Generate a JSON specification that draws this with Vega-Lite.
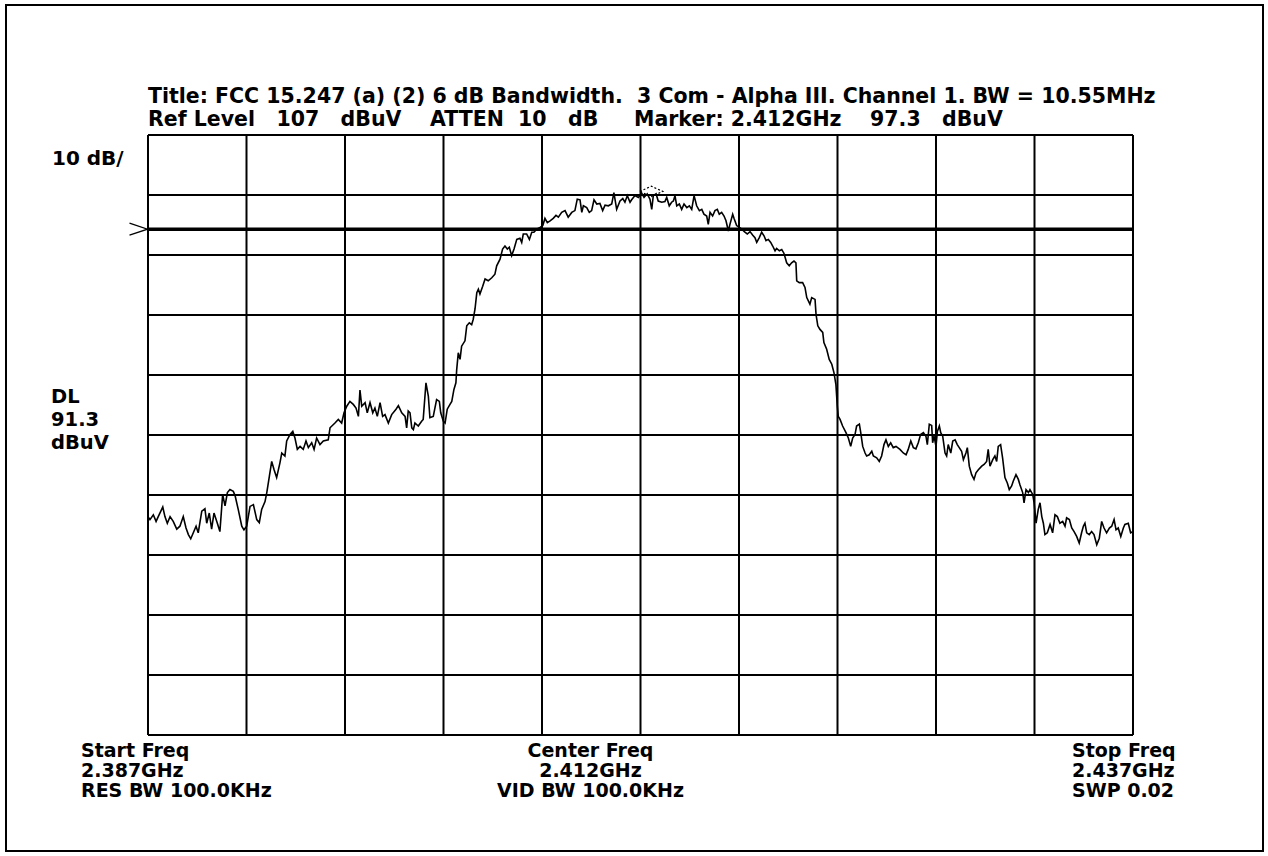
{
"$schema": "https://vega.github.io/schema/vega-lite/v6.json",
"width": 1257, "height": 846,
"autosize": {"type": "none"},
"padding": {"left": 6, "top": 5, "right": 5, "bottom": 5},
"background": "#ffffff",
"config": {"view": {"stroke": "#000000", "strokeWidth": 2}, "axis": {"disable": true}},
"datasets": {
"vgrid": [{"MHz":2387},{"MHz":2392},{"MHz":2397},{"MHz":2402},{"MHz":2407},{"MHz":2412},{"MHz":2417},{"MHz":2422},{"MHz":2427},{"MHz":2432},{"MHz":2437}],
"hgrid": [{"dBuV":7},{"dBuV":17},{"dBuV":27},{"dBuV":37},{"dBuV":47},{"dBuV":57},{"dBuV":67},{"dBuV":77},{"dBuV":87},{"dBuV":97},{"dBuV":107}],
"trace": [
{"MHz":2387.00,"dBuV":43.4},{"MHz":2387.10,"dBuV":42.9},{"MHz":2387.27,"dBuV":43.7},{"MHz":2387.41,"dBuV":42.6},{"MHz":2387.52,"dBuV":43.4},{"MHz":2387.75,"dBuV":45.0},{"MHz":2387.86,"dBuV":43.4},{"MHz":2387.98,"dBuV":42.3},{"MHz":2388.12,"dBuV":43.4},{"MHz":2388.28,"dBuV":42.6},
{"MHz":2388.46,"dBuV":41.3},{"MHz":2388.62,"dBuV":41.8},{"MHz":2388.79,"dBuV":43.4},{"MHz":2388.93,"dBuV":41.5},{"MHz":2389.05,"dBuV":40.4},{"MHz":2389.17,"dBuV":39.7},{"MHz":2389.30,"dBuV":40.7},{"MHz":2389.44,"dBuV":41.8},{"MHz":2389.55,"dBuV":40.7},{"MHz":2389.73,"dBuV":44.3},
{"MHz":2389.89,"dBuV":44.7},{"MHz":2389.98,"dBuV":42.3},{"MHz":2390.11,"dBuV":44.0},{"MHz":2390.23,"dBuV":41.3},{"MHz":2390.35,"dBuV":44.0},{"MHz":2390.52,"dBuV":42.3},{"MHz":2390.65,"dBuV":40.9},{"MHz":2390.79,"dBuV":47.1},{"MHz":2390.91,"dBuV":45.2},{"MHz":2391.03,"dBuV":47.4},
{"MHz":2391.16,"dBuV":47.9},{"MHz":2391.33,"dBuV":47.6},{"MHz":2391.42,"dBuV":46.9},{"MHz":2391.58,"dBuV":44.6},{"MHz":2391.76,"dBuV":41.8},{"MHz":2391.87,"dBuV":41.2},{"MHz":2392.01,"dBuV":41.8},{"MHz":2392.18,"dBuV":45.1},{"MHz":2392.35,"dBuV":45.4},{"MHz":2392.52,"dBuV":42.9},
{"MHz":2392.65,"dBuV":42.4},{"MHz":2392.77,"dBuV":44.6},{"MHz":2392.94,"dBuV":45.9},{"MHz":2393.03,"dBuV":47.4},{"MHz":2393.16,"dBuV":50.1},{"MHz":2393.28,"dBuV":52.6},{"MHz":2393.40,"dBuV":51.2},{"MHz":2393.53,"dBuV":49.9},{"MHz":2393.70,"dBuV":52.4},{"MHz":2393.79,"dBuV":54.0},
{"MHz":2393.95,"dBuV":53.5},{"MHz":2394.04,"dBuV":56.0},{"MHz":2394.21,"dBuV":57.1},{"MHz":2394.35,"dBuV":57.6},{"MHz":2394.46,"dBuV":56.5},{"MHz":2394.58,"dBuV":54.6},{"MHz":2394.72,"dBuV":55.1},{"MHz":2394.88,"dBuV":54.6},{"MHz":2395.02,"dBuV":56.0},{"MHz":2395.14,"dBuV":54.9},
{"MHz":2395.31,"dBuV":55.7},{"MHz":2395.43,"dBuV":54.6},{"MHz":2395.56,"dBuV":56.5},{"MHz":2395.73,"dBuV":55.4},{"MHz":2395.90,"dBuV":56.0},{"MHz":2396.15,"dBuV":56.2},{"MHz":2396.24,"dBuV":58.2},{"MHz":2396.49,"dBuV":59.0},{"MHz":2396.66,"dBuV":59.6},{"MHz":2396.83,"dBuV":59.0},
{"MHz":2396.95,"dBuV":60.7},{"MHz":2397.09,"dBuV":61.8},{"MHz":2397.25,"dBuV":62.6},{"MHz":2397.42,"dBuV":62.1},{"MHz":2397.56,"dBuV":61.5},{"MHz":2397.68,"dBuV":60.1},{"MHz":2397.76,"dBuV":64.5},{"MHz":2397.85,"dBuV":61.8},{"MHz":2398.02,"dBuV":62.4},{"MHz":2398.13,"dBuV":60.7},
{"MHz":2398.27,"dBuV":62.4},{"MHz":2398.41,"dBuV":60.7},{"MHz":2398.52,"dBuV":61.5},{"MHz":2398.64,"dBuV":60.1},{"MHz":2398.78,"dBuV":62.4},{"MHz":2398.91,"dBuV":60.1},{"MHz":2399.03,"dBuV":60.4},{"MHz":2399.20,"dBuV":59.0},{"MHz":2399.37,"dBuV":60.4},{"MHz":2399.59,"dBuV":61.3},
{"MHz":2399.71,"dBuV":61.9},{"MHz":2399.88,"dBuV":60.7},{"MHz":2400.05,"dBuV":60.1},{"MHz":2400.13,"dBuV":58.2},{"MHz":2400.21,"dBuV":61.0},{"MHz":2400.30,"dBuV":60.7},{"MHz":2400.39,"dBuV":58.2},{"MHz":2400.47,"dBuV":57.9},{"MHz":2400.55,"dBuV":59.0},{"MHz":2400.72,"dBuV":58.5},
{"MHz":2400.89,"dBuV":59.3},{"MHz":2400.97,"dBuV":59.6},{"MHz":2401.11,"dBuV":65.7},{"MHz":2401.23,"dBuV":63.5},{"MHz":2401.31,"dBuV":59.9},{"MHz":2401.48,"dBuV":60.1},{"MHz":2401.65,"dBuV":62.9},{"MHz":2401.79,"dBuV":62.6},{"MHz":2401.86,"dBuV":60.7},{"MHz":2401.99,"dBuV":59.3},
{"MHz":2402.08,"dBuV":59.0},{"MHz":2402.19,"dBuV":61.3},{"MHz":2402.33,"dBuV":62.1},{"MHz":2402.42,"dBuV":62.6},{"MHz":2402.53,"dBuV":64.6},{"MHz":2402.63,"dBuV":65.7},{"MHz":2402.67,"dBuV":67.9},{"MHz":2402.75,"dBuV":70.7},{"MHz":2402.84,"dBuV":69.6},{"MHz":2402.92,"dBuV":71.8},
{"MHz":2403.09,"dBuV":72.7},{"MHz":2403.18,"dBuV":75.2},{"MHz":2403.31,"dBuV":75.7},{"MHz":2403.43,"dBuV":75.4},{"MHz":2403.51,"dBuV":76.3},{"MHz":2403.60,"dBuV":78.0},{"MHz":2403.69,"dBuV":80.7},{"MHz":2403.77,"dBuV":81.3},{"MHz":2403.85,"dBuV":80.5},{"MHz":2403.99,"dBuV":81.8},
{"MHz":2404.11,"dBuV":83.0},{"MHz":2404.27,"dBuV":82.7},{"MHz":2404.45,"dBuV":83.2},{"MHz":2404.61,"dBuV":83.8},{"MHz":2404.70,"dBuV":85.2},{"MHz":2404.87,"dBuV":86.3},{"MHz":2405.00,"dBuV":88.0},{"MHz":2405.12,"dBuV":88.5},{"MHz":2405.24,"dBuV":88.0},{"MHz":2405.34,"dBuV":88.3},
{"MHz":2405.46,"dBuV":86.9},{"MHz":2405.58,"dBuV":88.0},{"MHz":2405.72,"dBuV":89.6},{"MHz":2405.88,"dBuV":89.8},{"MHz":2405.97,"dBuV":89.1},{"MHz":2406.05,"dBuV":90.5},{"MHz":2406.22,"dBuV":90.5},{"MHz":2406.36,"dBuV":89.6},{"MHz":2406.48,"dBuV":90.8},{"MHz":2406.59,"dBuV":90.8},
{"MHz":2406.73,"dBuV":91.3},{"MHz":2406.90,"dBuV":91.6},{"MHz":2407.04,"dBuV":91.9},{"MHz":2407.15,"dBuV":93.1},{"MHz":2407.27,"dBuV":92.4},{"MHz":2407.41,"dBuV":92.7},{"MHz":2407.57,"dBuV":93.1},{"MHz":2407.71,"dBuV":93.6},{"MHz":2407.83,"dBuV":93.3},{"MHz":2408.00,"dBuV":94.1},
{"MHz":2408.17,"dBuV":94.4},{"MHz":2408.33,"dBuV":93.3},{"MHz":2408.51,"dBuV":94.1},{"MHz":2408.67,"dBuV":94.4},{"MHz":2408.79,"dBuV":96.3},{"MHz":2408.93,"dBuV":96.2},{"MHz":2409.02,"dBuV":94.1},{"MHz":2409.10,"dBuV":95.2},{"MHz":2409.27,"dBuV":94.9},{"MHz":2409.40,"dBuV":94.1},
{"MHz":2409.52,"dBuV":94.4},{"MHz":2409.64,"dBuV":96.2},{"MHz":2409.78,"dBuV":95.5},{"MHz":2409.94,"dBuV":95.6},{"MHz":2410.08,"dBuV":94.4},{"MHz":2410.20,"dBuV":95.3},{"MHz":2410.37,"dBuV":95.2},{"MHz":2410.54,"dBuV":95.5},{"MHz":2410.65,"dBuV":97.4},{"MHz":2410.79,"dBuV":94.6},
{"MHz":2410.96,"dBuV":96.0},{"MHz":2411.10,"dBuV":96.4},{"MHz":2411.21,"dBuV":95.8},{"MHz":2411.33,"dBuV":96.9},{"MHz":2411.47,"dBuV":95.8},{"MHz":2411.55,"dBuV":96.2},{"MHz":2411.72,"dBuV":96.9},{"MHz":2411.89,"dBuV":96.6},{"MHz":2412.06,"dBuV":97.3},{"MHz":2412.18,"dBuV":96.6},
{"MHz":2412.34,"dBuV":97.2},{"MHz":2412.48,"dBuV":96.3},{"MHz":2412.57,"dBuV":94.6},{"MHz":2412.65,"dBuV":96.9},{"MHz":2412.79,"dBuV":97.2},{"MHz":2412.90,"dBuV":96.0},{"MHz":2413.08,"dBuV":95.8},{"MHz":2413.24,"dBuV":95.9},{"MHz":2413.33,"dBuV":96.6},{"MHz":2413.46,"dBuV":95.2},
{"MHz":2413.58,"dBuV":95.8},{"MHz":2413.67,"dBuV":96.0},{"MHz":2413.75,"dBuV":96.9},{"MHz":2413.84,"dBuV":95.2},{"MHz":2413.97,"dBuV":95.5},{"MHz":2414.09,"dBuV":94.6},{"MHz":2414.21,"dBuV":95.5},{"MHz":2414.35,"dBuV":94.9},{"MHz":2414.48,"dBuV":95.2},{"MHz":2414.60,"dBuV":94.6},
{"MHz":2414.72,"dBuV":96.9},{"MHz":2414.85,"dBuV":95.2},{"MHz":2414.99,"dBuV":94.4},{"MHz":2415.11,"dBuV":94.6},{"MHz":2415.22,"dBuV":93.8},{"MHz":2415.36,"dBuV":93.5},{"MHz":2415.44,"dBuV":92.1},{"MHz":2415.53,"dBuV":94.1},{"MHz":2415.66,"dBuV":93.5},{"MHz":2415.78,"dBuV":94.4},
{"MHz":2415.90,"dBuV":94.6},{"MHz":2416.00,"dBuV":93.8},{"MHz":2416.12,"dBuV":94.1},{"MHz":2416.24,"dBuV":93.5},{"MHz":2416.34,"dBuV":92.7},{"MHz":2416.46,"dBuV":91.0},{"MHz":2416.54,"dBuV":92.1},{"MHz":2416.68,"dBuV":93.8},{"MHz":2416.75,"dBuV":93.1},{"MHz":2416.88,"dBuV":91.9},
{"MHz":2417.02,"dBuV":91.6},{"MHz":2417.14,"dBuV":91.3},{"MHz":2417.30,"dBuV":90.8},{"MHz":2417.42,"dBuV":90.5},{"MHz":2417.56,"dBuV":90.9},{"MHz":2417.70,"dBuV":90.3},{"MHz":2417.81,"dBuV":89.9},{"MHz":2417.90,"dBuV":89.1},{"MHz":2418.03,"dBuV":89.9},{"MHz":2418.15,"dBuV":90.8},
{"MHz":2418.27,"dBuV":90.2},{"MHz":2418.37,"dBuV":89.4},{"MHz":2418.49,"dBuV":89.6},{"MHz":2418.61,"dBuV":89.1},{"MHz":2418.71,"dBuV":88.5},{"MHz":2418.83,"dBuV":87.7},{"MHz":2418.91,"dBuV":88.1},{"MHz":2419.05,"dBuV":87.7},{"MHz":2419.17,"dBuV":87.9},{"MHz":2419.28,"dBuV":87.3},
{"MHz":2419.42,"dBuV":85.7},{"MHz":2419.55,"dBuV":85.2},{"MHz":2419.67,"dBuV":85.7},{"MHz":2419.79,"dBuV":86.0},{"MHz":2419.89,"dBuV":85.7},{"MHz":2419.93,"dBuV":82.7},{"MHz":2420.06,"dBuV":82.4},{"MHz":2420.23,"dBuV":82.4},{"MHz":2420.35,"dBuV":81.6},{"MHz":2420.44,"dBuV":79.9},
{"MHz":2420.60,"dBuV":78.8},{"MHz":2420.69,"dBuV":79.9},{"MHz":2420.86,"dBuV":79.6},{"MHz":2420.91,"dBuV":77.1},{"MHz":2421.00,"dBuV":75.2},{"MHz":2421.11,"dBuV":74.6},{"MHz":2421.25,"dBuV":74.1},{"MHz":2421.31,"dBuV":72.4},{"MHz":2421.45,"dBuV":71.3},{"MHz":2421.58,"dBuV":69.6},
{"MHz":2421.71,"dBuV":68.8},{"MHz":2421.82,"dBuV":67.4},{"MHz":2421.92,"dBuV":65.4},{"MHz":2421.99,"dBuV":61.8},{"MHz":2422.04,"dBuV":60.1},{"MHz":2422.13,"dBuV":59.6},{"MHz":2422.26,"dBuV":58.5},{"MHz":2422.43,"dBuV":57.4},{"MHz":2422.55,"dBuV":56.5},{"MHz":2422.67,"dBuV":55.1},
{"MHz":2422.77,"dBuV":56.5},{"MHz":2422.89,"dBuV":57.1},{"MHz":2422.97,"dBuV":58.5},{"MHz":2423.11,"dBuV":58.8},{"MHz":2423.18,"dBuV":57.4},{"MHz":2423.28,"dBuV":55.1},{"MHz":2423.40,"dBuV":54.0},{"MHz":2423.48,"dBuV":53.5},{"MHz":2423.61,"dBuV":53.7},{"MHz":2423.74,"dBuV":54.3},
{"MHz":2423.82,"dBuV":53.5},{"MHz":2423.99,"dBuV":53.2},{"MHz":2424.12,"dBuV":52.6},{"MHz":2424.24,"dBuV":53.5},{"MHz":2424.36,"dBuV":55.4},{"MHz":2424.46,"dBuV":56.2},{"MHz":2424.58,"dBuV":55.1},{"MHz":2424.70,"dBuV":55.7},{"MHz":2424.83,"dBuV":54.9},{"MHz":2424.97,"dBuV":55.1},
{"MHz":2425.17,"dBuV":54.6},{"MHz":2425.34,"dBuV":54.0},{"MHz":2425.48,"dBuV":53.7},{"MHz":2425.59,"dBuV":54.6},{"MHz":2425.72,"dBuV":56.0},{"MHz":2425.85,"dBuV":54.9},{"MHz":2425.98,"dBuV":54.7},{"MHz":2426.10,"dBuV":55.7},{"MHz":2426.22,"dBuV":57.1},{"MHz":2426.36,"dBuV":57.4},
{"MHz":2426.49,"dBuV":56.8},{"MHz":2426.56,"dBuV":55.4},{"MHz":2426.66,"dBuV":58.8},{"MHz":2426.78,"dBuV":58.6},{"MHz":2426.83,"dBuV":55.7},{"MHz":2426.90,"dBuV":56.8},{"MHz":2427.00,"dBuV":55.1},{"MHz":2427.07,"dBuV":57.6},{"MHz":2427.17,"dBuV":58.5},{"MHz":2427.24,"dBuV":57.4},
{"MHz":2427.34,"dBuV":56.8},{"MHz":2427.46,"dBuV":54.0},{"MHz":2427.54,"dBuV":53.5},{"MHz":2427.62,"dBuV":55.4},{"MHz":2427.75,"dBuV":54.0},{"MHz":2427.85,"dBuV":56.0},{"MHz":2427.97,"dBuV":56.2},{"MHz":2428.08,"dBuV":55.4},{"MHz":2428.18,"dBuV":54.9},{"MHz":2428.30,"dBuV":54.3},
{"MHz":2428.39,"dBuV":52.9},{"MHz":2428.52,"dBuV":54.0},{"MHz":2428.59,"dBuV":54.9},{"MHz":2428.69,"dBuV":51.8},{"MHz":2428.81,"dBuV":50.4},{"MHz":2428.93,"dBuV":49.6},{"MHz":2429.03,"dBuV":50.7},{"MHz":2429.15,"dBuV":51.2},{"MHz":2429.32,"dBuV":51.8},{"MHz":2429.44,"dBuV":52.1},
{"MHz":2429.57,"dBuV":52.6},{"MHz":2429.65,"dBuV":54.6},{"MHz":2429.74,"dBuV":51.8},{"MHz":2429.88,"dBuV":52.9},{"MHz":2429.99,"dBuV":53.5},{"MHz":2430.08,"dBuV":52.6},{"MHz":2430.16,"dBuV":55.1},{"MHz":2430.28,"dBuV":55.4},{"MHz":2430.38,"dBuV":53.2},{"MHz":2430.50,"dBuV":49.9},
{"MHz":2430.62,"dBuV":49.0},{"MHz":2430.72,"dBuV":47.9},{"MHz":2430.84,"dBuV":48.5},{"MHz":2430.92,"dBuV":49.3},{"MHz":2431.06,"dBuV":50.4},{"MHz":2431.18,"dBuV":49.6},{"MHz":2431.26,"dBuV":48.7},{"MHz":2431.40,"dBuV":47.4},{"MHz":2431.47,"dBuV":45.7},{"MHz":2431.57,"dBuV":47.9},
{"MHz":2431.69,"dBuV":47.4},{"MHz":2431.77,"dBuV":47.9},{"MHz":2431.91,"dBuV":47.1},{"MHz":2431.98,"dBuV":45.7},{"MHz":2432.08,"dBuV":42.3},{"MHz":2432.19,"dBuV":44.6},{"MHz":2432.28,"dBuV":45.7},{"MHz":2432.37,"dBuV":43.4},{"MHz":2432.45,"dBuV":42.3},{"MHz":2432.53,"dBuV":40.4},
{"MHz":2432.65,"dBuV":40.7},{"MHz":2432.79,"dBuV":42.1},{"MHz":2432.92,"dBuV":40.7},{"MHz":2433.04,"dBuV":43.7},{"MHz":2433.16,"dBuV":43.4},{"MHz":2433.29,"dBuV":42.3},{"MHz":2433.43,"dBuV":42.6},{"MHz":2433.55,"dBuV":41.8},{"MHz":2433.63,"dBuV":43.2},{"MHz":2433.77,"dBuV":42.9},
{"MHz":2433.89,"dBuV":41.5},{"MHz":2434.01,"dBuV":40.9},{"MHz":2434.14,"dBuV":40.1},{"MHz":2434.27,"dBuV":39.0},{"MHz":2434.39,"dBuV":40.7},{"MHz":2434.48,"dBuV":41.8},{"MHz":2434.56,"dBuV":42.3},{"MHz":2434.65,"dBuV":40.7},{"MHz":2434.78,"dBuV":40.4},{"MHz":2434.90,"dBuV":40.9},
{"MHz":2435.02,"dBuV":40.4},{"MHz":2435.16,"dBuV":38.7},{"MHz":2435.29,"dBuV":39.8},{"MHz":2435.41,"dBuV":42.6},{"MHz":2435.53,"dBuV":41.5},{"MHz":2435.66,"dBuV":40.7},{"MHz":2435.80,"dBuV":41.5},{"MHz":2435.92,"dBuV":41.8},{"MHz":2436.04,"dBuV":42.9},{"MHz":2436.14,"dBuV":41.2},
{"MHz":2436.25,"dBuV":41.5},{"MHz":2436.38,"dBuV":40.1},{"MHz":2436.51,"dBuV":41.5},{"MHz":2436.59,"dBuV":42.1},{"MHz":2436.76,"dBuV":42.3},{"MHz":2436.88,"dBuV":40.7},{"MHz":2437.00,"dBuV":40.9}
]
},
"layer": [
{"data": {"name": "vgrid"}, "mark": {"type": "rule", "color": "#000000", "strokeWidth": 2},
 "encoding": {"x": {"field": "MHz", "type": "quantitative", "axis": null, "scale": {"domain": [2379.792, 2443.599], "nice": false, "zero": false}},
  "y": {"datum": 7, "type": "quantitative", "axis": null, "scale": {"domain": [-12.333, 128.667], "nice": false, "zero": false}}, "y2": {"datum": 107}}},
{"data": {"name": "hgrid"}, "mark": {"type": "rule", "color": "#000000", "strokeWidth": 2},
 "encoding": {"y": {"field": "dBuV", "type": "quantitative", "axis": null, "scale": {"domain": [-12.333, 128.667], "nice": false, "zero": false}},
  "x": {"datum": 2387, "type": "quantitative", "axis": null, "scale": {"domain": [2379.792, 2443.599], "nice": false, "zero": false}}, "x2": {"datum": 2437}}},
{"data": {"values": [{"dBuV": 91.3}]}, "mark": {"type": "rule", "color": "#000000", "strokeWidth": 3.5},
 "encoding": {"y": {"field": "dBuV", "type": "quantitative", "axis": null, "scale": {"domain": [-12.333, 128.667], "nice": false, "zero": false}},
  "x": {"datum": 2387, "type": "quantitative", "axis": null, "scale": {"domain": [2379.792, 2443.599], "nice": false, "zero": false}}, "x2": {"datum": 2437}}},
{"data": {"name": "trace"}, "mark": {"type": "line", "color": "#000000", "strokeWidth": 1.6},
 "encoding": {"x": {"field": "MHz", "type": "quantitative", "axis": null, "scale": {"domain": [2379.792, 2443.599], "nice": false, "zero": false}},
  "y": {"field": "dBuV", "type": "quantitative", "axis": null, "scale": {"domain": [-12.333, 128.667], "nice": false, "zero": false}}}},
{"data": {"values": [{"MHz": 2412.55, "dBuV": 97.6}]}, "mark": {"type": "point", "shape": "M-1,0L0,-0.45L1,0L0,0.45Z", "size": 529, "filled": false, "stroke": "#000000", "strokeWidth": 1.2, "strokeDash": [2, 2], "opacity": 1},
 "encoding": {"x": {"field": "MHz", "type": "quantitative", "axis": null, "scale": {"domain": [2379.792, 2443.599], "nice": false, "zero": false}},
  "y": {"field": "dBuV", "type": "quantitative", "axis": null, "scale": {"domain": [-12.333, 128.667], "nice": false, "zero": false}}}},
{"data": {"values": [{"MHz": 2387, "dBuV": 91.3}]}, "mark": {"type": "point", "shape": "M-1.85,-0.6L-0.05,0L-1.85,0.6", "size": 400, "filled": false, "stroke": "#000000", "strokeWidth": 1.3, "opacity": 1},
 "encoding": {"x": {"field": "MHz", "type": "quantitative", "axis": null, "scale": {"domain": [2379.792, 2443.599], "nice": false, "zero": false}},
  "y": {"field": "dBuV", "type": "quantitative", "axis": null, "scale": {"domain": [-12.333, 128.667], "nice": false, "zero": false}}}},
{"data": {"values": [{"MHz": 2387, "dBuV": 107, "label": ["Title: FCC 15.247 (a) (2) 6 dB Bandwidth.\u00a0 3 Com - Alpha III. Channel 1. BW = 10.55MHz", "Ref Level\u00a0\u00a0\u00a0107\u00a0\u00a0\u00a0dBuV\u00a0\u00a0\u00a0\u00a0ATTEN\u00a0\u00a010\u00a0\u00a0\u00a0dB\u00a0\u00a0\u00a0\u00a0\u00a0Marker: 2.412GHz\u00a0\u00a0\u00a0\u00a097.3\u00a0\u00a0\u00a0dBuV"]}]},
 "mark": {"type": "text", "align": "left", "baseline": "alphabetic", "dy": -32, "lineHeight": 23, "font": "DejaVu Sans", "fontWeight": "bold", "fontSize": 20.5, "color": "#000000"},
 "encoding": {"x": {"field": "MHz", "type": "quantitative", "axis": null, "scale": {"domain": [2379.792, 2443.599], "nice": false, "zero": false}},
  "y": {"field": "dBuV", "type": "quantitative", "axis": null, "scale": {"domain": [-12.333, 128.667], "nice": false, "zero": false}}, "text": {"field": "label", "type": "nominal"}}},
{"data": {"values": [{"MHz": 2387, "dBuV": 107, "label": "10 dB/"}]},
 "mark": {"type": "text", "align": "left", "baseline": "alphabetic", "dx": -96, "dy": 29.5, "font": "DejaVu Sans", "fontWeight": "bold", "fontSize": 20, "color": "#000000"},
 "encoding": {"x": {"field": "MHz", "type": "quantitative", "axis": null, "scale": {"domain": [2379.792, 2443.599], "nice": false, "zero": false}},
  "y": {"field": "dBuV", "type": "quantitative", "axis": null, "scale": {"domain": [-12.333, 128.667], "nice": false, "zero": false}}, "text": {"field": "label", "type": "nominal"}}},
{"data": {"values": [{"MHz": 2387, "dBuV": 91.3, "label": ["DL", "\u00a091.3", "dBuV"]}]},
 "mark": {"type": "text", "align": "left", "baseline": "alphabetic", "dx": -97, "dy": 174, "lineHeight": 23, "font": "DejaVu Sans", "fontWeight": "bold", "fontSize": 19.5, "color": "#000000"},
 "encoding": {"x": {"field": "MHz", "type": "quantitative", "axis": null, "scale": {"domain": [2379.792, 2443.599], "nice": false, "zero": false}},
  "y": {"field": "dBuV", "type": "quantitative", "axis": null, "scale": {"domain": [-12.333, 128.667], "nice": false, "zero": false}}, "text": {"field": "label", "type": "nominal"}}},
{"data": {"values": [{"MHz": 2387, "dBuV": 7, "label": ["Start Freq", "2.387GHz", "RES BW 100.0KHz"]}]},
 "mark": {"type": "text", "align": "left", "baseline": "alphabetic", "dx": -67, "dy": 22, "lineHeight": 20, "font": "DejaVu Sans", "fontWeight": "bold", "fontSize": 19, "color": "#000000"},
 "encoding": {"x": {"field": "MHz", "type": "quantitative", "axis": null, "scale": {"domain": [2379.792, 2443.599], "nice": false, "zero": false}},
  "y": {"field": "dBuV", "type": "quantitative", "axis": null, "scale": {"domain": [-12.333, 128.667], "nice": false, "zero": false}}, "text": {"field": "label", "type": "nominal"}}},
{"data": {"values": [{"MHz": 2412, "dBuV": 7, "label": ["Center Freq", "2.412GHz", "VID BW 100.0KHz"]}]},
 "mark": {"type": "text", "align": "center", "baseline": "alphabetic", "dx": -50, "dy": 22, "lineHeight": 20, "font": "DejaVu Sans", "fontWeight": "bold", "fontSize": 19, "color": "#000000"},
 "encoding": {"x": {"field": "MHz", "type": "quantitative", "axis": null, "scale": {"domain": [2379.792, 2443.599], "nice": false, "zero": false}},
  "y": {"field": "dBuV", "type": "quantitative", "axis": null, "scale": {"domain": [-12.333, 128.667], "nice": false, "zero": false}}, "text": {"field": "label", "type": "nominal"}}},
{"data": {"values": [{"MHz": 2437, "dBuV": 7, "label": ["Stop Freq", "2.437GHz", "SWP 0.02"]}]},
 "mark": {"type": "text", "align": "left", "baseline": "alphabetic", "dx": -61, "dy": 22, "lineHeight": 20, "font": "DejaVu Sans", "fontWeight": "bold", "fontSize": 19, "color": "#000000"},
 "encoding": {"x": {"field": "MHz", "type": "quantitative", "axis": null, "scale": {"domain": [2379.792, 2443.599], "nice": false, "zero": false}},
  "y": {"field": "dBuV", "type": "quantitative", "axis": null, "scale": {"domain": [-12.333, 128.667], "nice": false, "zero": false}}, "text": {"field": "label", "type": "nominal"}}}
]
}
